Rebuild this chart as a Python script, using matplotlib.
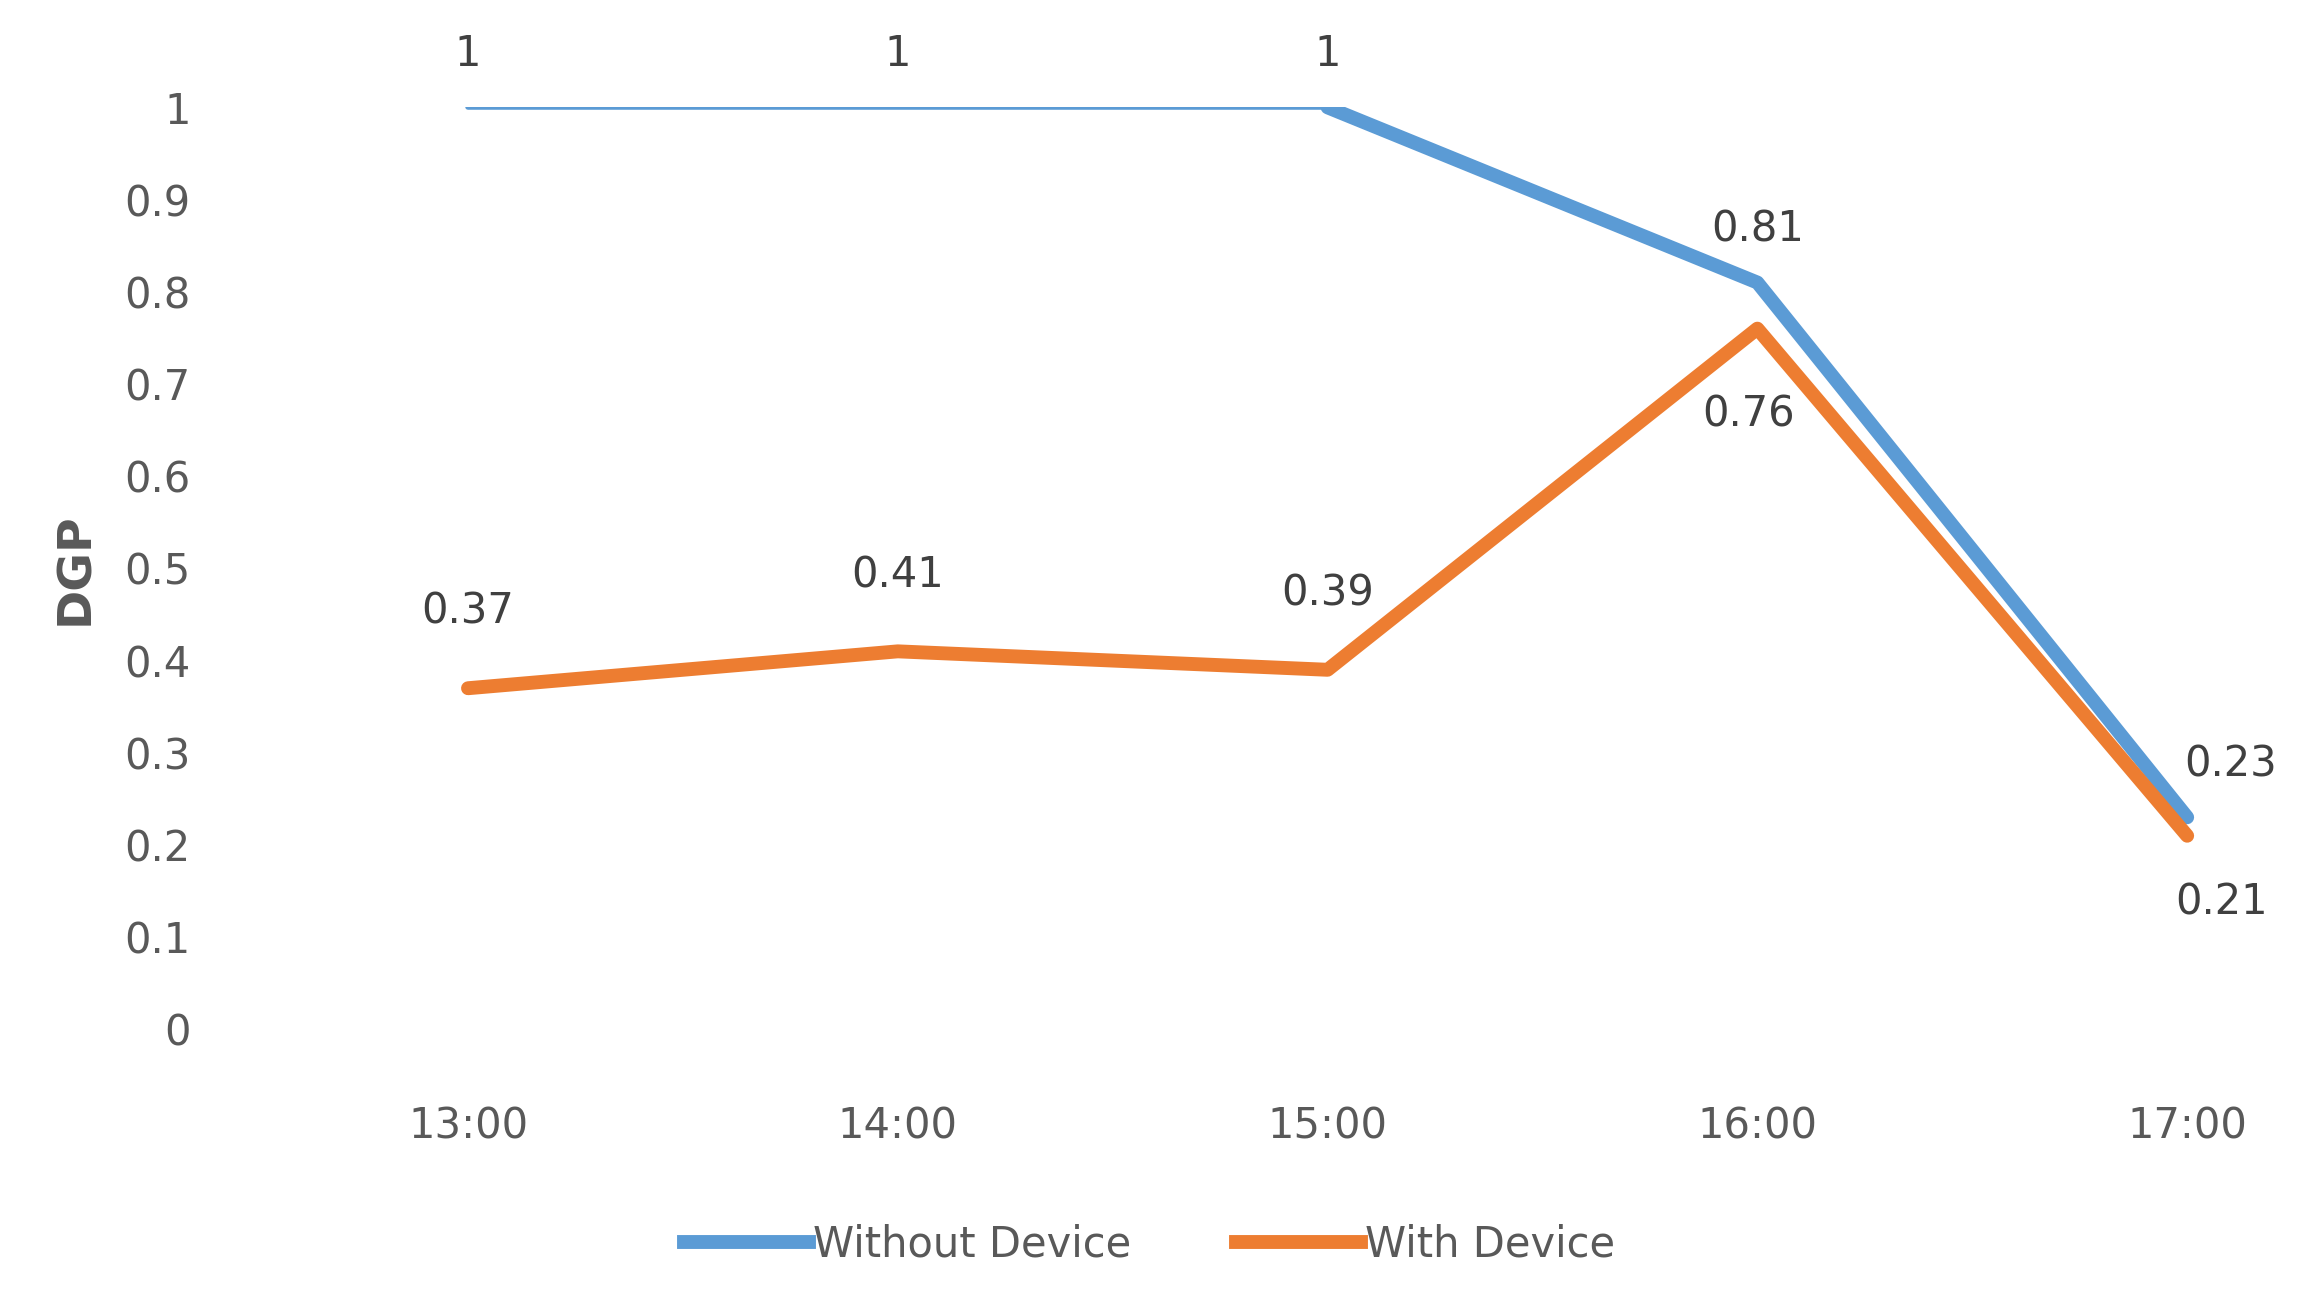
import matplotlib.pyplot as plt

times = ["13:00", "14:00", "15:00", "16:00", "17:00"]
without_device = [1, 1, 1, 0.81, 0.23]
with_device = [0.37, 0.41, 0.39, 0.76, 0.21]
without_labels = ["1", "1", "1", "0.81", "0.23"]
with_labels = ["0.37", "0.41", "0.39", "0.76", "0.21"]

blue = "#5b9bd5"
orange = "#ed7d31"
grey = "#595959"

fig = plt.figure(figsize=(22.99, 13.03), dpi=100)
ax = fig.add_axes([0.0914, 0.21, 0.888, 0.7076])
x = list(range(len(times)))

# blue line is thin for the flat part in the reference
ax.plot(x[:3], without_device[:3], color=blue, lw=4, solid_capstyle="round")
ax.plot(x[2:], without_device[2:], color=blue, lw=10, solid_capstyle="round")
ax.plot(x, with_device, color=orange, lw=10, solid_capstyle="round")

for i, t in enumerate(without_labels):
    dx = 0.1 if i == 4 else 0
    ax.text(x[i] + dx, without_device[i] + 0.035, t, ha="center", va="bottom",
            fontsize=30, color="#404040")
for i, t in enumerate(with_labels):
    if i == 3:
        ax.text(x[i] - 0.02, with_device[i] - 0.07, t, ha="center", va="top",
                fontsize=30, color="#404040")
    elif i == 4:
        ax.text(x[i] + 0.08, with_device[i] - 0.05, t, ha="center", va="top",
                fontsize=30, color="#404040")
    else:
        ax.text(x[i], with_device[i] + 0.06, t, ha="center", va="bottom",
                fontsize=30, color="#404040")

ax.set_xlim(-0.6, 4.15)
ax.set_ylim(0, 1)
ax.set_yticks([0, 0.1, 0.2, 0.3, 0.4, 0.5, 0.6, 0.7, 0.8, 0.9, 1])
ax.set_yticklabels(["0", "0.1", "0.2", "0.3", "0.4", "0.5", "0.6", "0.7", "0.8", "0.9", "1"])
ax.set_xticks(x)
ax.set_xticklabels(times)
ax.tick_params(length=0, labelsize=30, labelcolor=grey)
ax.tick_params(axis="x", pad=55)
ax.tick_params(axis="y", pad=14)
for s in ax.spines.values():
    s.set_visible(False)
ax.set_ylabel("DGP", fontsize=34, fontweight="bold", color=grey, labelpad=28)
ax.yaxis.set_label_coords(-0.055, 0.5)

h1, = ax.plot([], [], color=blue, lw=10)
h2, = ax.plot([], [], color=orange, lw=10)
leg = fig.legend([h1, h2], ["Without Device", "With Device"], loc="center",
                 bbox_to_anchor=(0.5, 0.045), ncol=2, frameon=False, fontsize=30,
                 handlelength=3, handletextpad=0.1, columnspacing=2.5)
for t in leg.get_texts():
    t.set_color(grey)

fig.savefig("out.png", dpi=100)
